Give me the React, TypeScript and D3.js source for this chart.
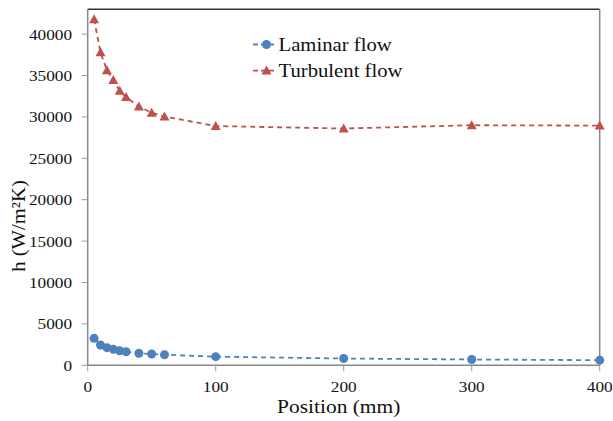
import React from "react";
import * as d3 from "d3";

const positions = [5, 10, 15, 20, 25, 30, 40, 50, 60, 100, 200, 300, 400];
const laminar = [3260, 2450, 2130, 1930, 1760, 1640, 1450, 1360, 1280, 1040, 820, 700, 620];
const turbulent = [41800, 37800, 35650, 34450, 33150, 32400, 31250, 30500, 30050, 28900, 28600, 29000, 28950];
const xTicks = [0, 100, 200, 300, 400];
const yTicks = [0, 5000, 10000, 15000, 20000, 25000, 30000, 35000, 40000];

const W = 613, H = 421;
const L = 87.7, R = 599.7, T = 9.3, B = 365.3;
const FONT = "Liberation Serif";
const BLUE = "#4F81BD";
const RED = "#C0504D";

type TP = { x: number; y: number; size: number; sx: number; anchor?: string; rot?: number; children: React.ReactNode };
function T2({ x, y, size, sx, anchor = "start", rot = 0, children }: TP) {
  return (
    <text
      transform={`translate(${x},${y}) rotate(${rot}) scale(${sx},1)`}
      textAnchor={anchor}
      style={{ fontFamily: FONT }}
      fontSize={size}
      fill="#111"
    >
      {children}
    </text>
  );
}

export default function App() {
  const x = d3.scaleLinear().domain([0, 400]).range([L, R]);
  const y = d3.scaleLinear().domain([0, 43000]).range([B, T]);
  const line = d3.line<[number, number]>().x(d => x(d[0])).y(d => y(d[1]));
  const lamPts = positions.map((p, i) => [p, laminar[i]] as [number, number]);
  const turPts = positions.map((p, i) => [p, turbulent[i]] as [number, number]);
  const tri = (cx: number, cy: number, s = 5) =>
    `M${cx},${cy - s}L${cx + s},${cy + s * 0.8}L${cx - s},${cy + s * 0.8}Z`;

  return (
    <svg width={W} height={H} style={{ position: "absolute", left: 0, top: 0, background: "#fff" }}>
      <rect width={W} height={H} fill="#fff" />
      {/* frame */}
      <line x1={L} x2={R} y1={T} y2={T} stroke="#333" strokeWidth={1.5} />
      <line x1={R} x2={R} y1={T} y2={B} stroke="#888" strokeWidth={1.5} />
      <line x1={L} x2={L} y1={T} y2={B} stroke="#888" strokeWidth={1.5} />
      <line x1={L} x2={R} y1={B} y2={B} stroke="#888" strokeWidth={1.5} />
      {yTicks.map(t => (
        <g key={t}>
          <line x1={L - 6} x2={L} y1={y(t)} y2={y(t)} stroke="#999" strokeWidth={1} />
          <T2 x={72} y={y(t) + 5.5} size={15} sx={1.15} anchor="end">{t}</T2>
        </g>
      ))}
      {xTicks.map(t => (
        <g key={t}>
          <line x1={x(t)} x2={x(t)} y1={B} y2={B + 6} stroke="#999" strokeWidth={1} />
          <T2 x={x(t)} y={391.5} size={15} sx={1.15} anchor="middle">{t}</T2>
        </g>
      ))}
      <T2 x={338.7} y={412.7} size={18.5} sx={1.16} anchor="middle">Position (mm)</T2>
      <T2 x={25} y={226} size={19.5} sx={1.06} rot={-90} anchor="middle">h (W/m²K)</T2>

      {/* series */}
      <path d={line(turPts) || ""} fill="none" stroke={RED} strokeWidth={1.8} strokeDasharray="5,4" />
      <path d={line(lamPts) || ""} fill="none" stroke={BLUE} strokeWidth={1.8} strokeDasharray="5,4" />
      {turPts.map((d, i) => (
        <path key={i} d={tri(x(d[0]), y(d[1]))} fill={RED} />
      ))}
      {lamPts.map((d, i) => (
        <circle key={i} cx={x(d[0])} cy={y(d[1])} r={4.5} fill={BLUE} />
      ))}

      {/* legend */}
      <line x1={253} x2={274} y1={44.5} y2={44.5} stroke={BLUE} strokeWidth={1.8} strokeDasharray="5,3" />
      <circle cx={266.5} cy={44.5} r={4.5} fill={BLUE} />
      <T2 x={278.5} y={50.7} size={19} sx={1.09}>Laminar flow</T2>
      <line x1={253} x2={274} y1={70.7} y2={70.7} stroke={RED} strokeWidth={1.8} strokeDasharray="5,3" />
      <path d={tri(266.5, 70.5)} fill={RED} />
      <T2 x={278.5} y={76.7} size={19} sx={1.09}>Turbulent flow</T2>
    </svg>
  );
}
